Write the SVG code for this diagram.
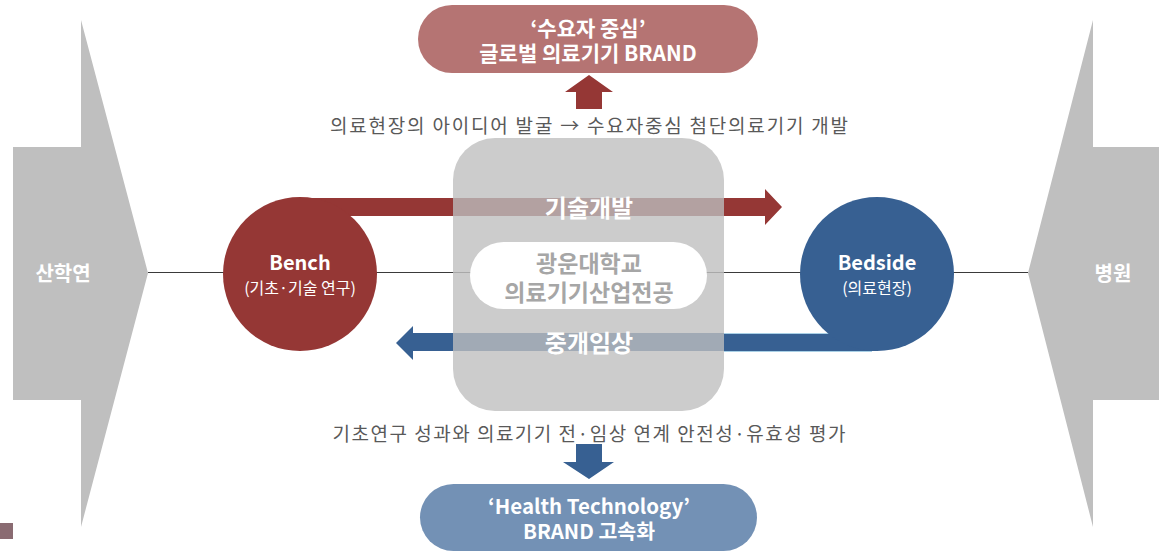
<svg xmlns="http://www.w3.org/2000/svg" width="1159" height="553" viewBox="0 0 1159 553">
<style>
text{font-family:"Malgun Gothic","Noto Sans CJK KR","Noto Sans",sans-serif;text-anchor:middle;dominant-baseline:central}
.w{fill:#ffffff;font-weight:700}
.desc{fill:#595959;font-size:19px}
.sub{fill:#ffffff;font-size:16px}
.red{fill:#953735}
.blue{fill:#376092}
</style>
<rect x="0" y="0" width="1159" height="553" fill="#ffffff"/>
<g id="connectors">
<line x1="148" y1="272.5" x2="1028" y2="272.5" stroke="#3a3a3a" stroke-width="1"/>
</g>
<g id="sanhakyeon">
<polygon points="13,147 81,147 81,20 148,273 81,527 81,400 13,400" fill="#bfbfbf"/>
<text class="w" x="63" y="272" font-size="20">산학연</text>
</g>
<g id="hospital">
<polygon points="1159,147 1093,147 1093,20 1028,273 1093,527 1093,400 1159,400" fill="#bfbfbf"/>
<text class="w" x="1113" y="272" font-size="20">병원</text>
</g>
<g id="tech-arrow">
<polygon class="red" points="300,198 765,198 765,189 782,207 765,225 765,216 300,216"/>
</g>
<g id="clinical-arrow">
<polygon class="blue" points="877,333 413,333 413,326 396,343 413,360 413,351 877,351"/>
<line x1="724" y1="333.5" x2="829" y2="333.5" stroke="#a9d0e6" stroke-width="1"/>
<line x1="724" y1="351.5" x2="872" y2="351.5" stroke="#a9d0e6" stroke-width="1"/>
</g>
<g id="bench">
<circle class="red" cx="300" cy="274" r="77"/>
<text class="w" x="300" y="261" font-size="20">Bench</text>
<text class="sub" x="300" y="287">(기초·기술 연구)</text>
</g>
<g id="bedside">
<circle class="blue" cx="877" cy="274" r="77"/>
<text class="w" x="877" y="261" font-size="20">Bedside</text>
<text class="sub" x="877" y="287">(의료현장)</text>
</g>
<g id="center-box">
<rect x="453" y="138" width="271" height="273" rx="42" fill="#cccccc"/>
<rect x="453" y="198" width="271" height="18" fill="#b3a1a1"/>
<rect x="453" y="333" width="271" height="18" fill="#a1aab5"/>
<line x1="453" y1="272.5" x2="724" y2="272.5" stroke="#a8a8a8" stroke-width="1"/>
<text class="w" x="589" y="206" font-size="24">기술개발</text>
<text class="w" x="589" y="341" font-size="24">중개임상</text>
</g>
<g id="kwangwoon">
<rect x="470" y="242" width="237" height="67" rx="33.5" fill="#ffffff"/>
<text font-size="23" font-weight="700" fill="#a6a6a6"><tspan x="589" y="262">광운대학교</tspan><tspan x="589" y="291">의료기기산업전공</tspan></text>
</g>
<g id="top-brand">
<rect x="418" y="5" width="340" height="68" rx="34" fill="#b57473"/>
<text class="w" font-size="21"><tspan x="588" y="27">‘수요자 중심’</tspan><tspan x="588" y="52">글로벌 의료기기 BRAND</tspan></text>
</g>
<g id="up-arrow">
<polygon class="red" points="576,109 602,109 602,92 613,92 589,75 565,92 576,92"/>
</g>
<g id="top-desc">
<text class="desc" x="589" y="124" textLength="518" lengthAdjust="spacing">의료현장의 아이디어 발굴 → 수요자중심 첨단의료기기 개발</text>
</g>
<g id="bottom-desc">
<text class="desc" x="589" y="432" textLength="513" lengthAdjust="spacing">기초연구 성과와 의료기기 전·임상 연계 안전성·유효성 평가</text>
</g>
<g id="down-arrow">
<polygon class="blue" points="576,444 602,444 602,462 614,462 589,479 563,462 576,462"/>
</g>
<g id="bottom-brand">
<rect x="420" y="484" width="337" height="67" rx="33.5" fill="#7391b5"/>
<text class="w" font-size="20.5"><tspan x="589" y="505">‘Health Technology’</tspan><tspan x="589" y="530">BRAND 고속화</tspan></text>
</g>
<g id="corner-mark">
<rect x="0" y="523" width="13" height="16" fill="#8a6b72"/>
</g>
</svg>
